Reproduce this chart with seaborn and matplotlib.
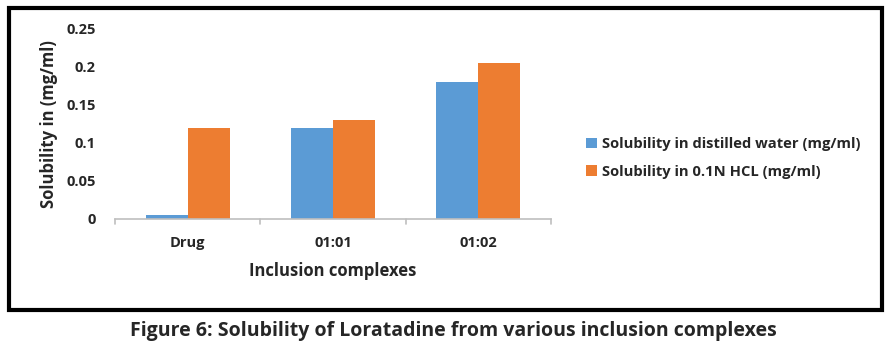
import pandas as pd
import numpy as np
import matplotlib.pyplot as plt
import seaborn as sns
from matplotlib.patches import Rectangle

complexes = ["Drug", "01:01", "01:02"]
water = [0.005, 0.12, 0.18]
hcl = [0.12, 0.13, 0.205]
series_names = ["Solubility in distilled water (mg/ml)", "Solubility in 0.1N HCL (mg/ml)"]
yticks = [0, 0.05, 0.1, 0.15, 0.2, 0.25]
ytick_labels = ["0", "0.05", "0.1", "0.15", "0.2", "0.25"]

df = pd.DataFrame({
    "complex": complexes * 2,
    "value": water + hcl,
    "series": [series_names[0]] * 3 + [series_names[1]] * 3,
})

sns.set_style("white")
plt.rcParams['font.family'] = ['Open Sans', 'DejaVu Sans']
plt.rcParams['font.weight'] = 'bold'

fig = plt.figure(figsize=(8.91, 3.52), dpi=100)
ax = fig.add_axes([115 / 891, 1 - 219 / 352, 436 / 891, 190 / 352])

sns.barplot(data=df, x="complex", y="value", hue="series", ax=ax,
            palette=["#5B9BD5", "#ED7D31"], width=0.58, saturation=1, gap=0,
            linewidth=0)

ax.set_ylim(0, 0.25)
ax.set_xlim(-0.5, 2.5)
ax.set_yticks(yticks)
ax.set_yticklabels(ytick_labels, fontsize=10.5, fontweight="bold")
ax.tick_params(axis="y", length=0, pad=14)
ax.tick_params(axis="x", length=0, pad=12, labelsize=10.5)
for lbl in ax.get_xticklabels():
    lbl.set_fontweight("bold")

# category separator ticks on the x axis
for xpos in [-0.5, 0.5, 1.5, 2.5]:
    ax.plot([xpos, xpos], [0, -0.006], color="#BFBFBF", lw=1.2, clip_on=False)

for side in ["left", "right", "top"]:
    ax.spines[side].set_visible(False)
ax.spines["bottom"].set_color("#BFBFBF")
ax.spines["bottom"].set_linewidth(1.2)

ax.set_xlabel("Inclusion complexes", fontsize=12, fontweight="bold", labelpad=9)
ax.set_ylabel("Solubility in (mg/ml)", fontsize=12, fontweight="bold", labelpad=6)

handles, labels = ax.get_legend_handles_labels()
ax.legend(handles, labels, loc="center left", bbox_to_anchor=(573 / 891, 1 - 158 / 352),
          bbox_transform=fig.transFigure, frameon=False,
          handlelength=0.7, handleheight=0.7, handletextpad=0.4, labelspacing=0.9,
          prop={"weight": "bold", "size": 10.6})

fig.add_artist(Rectangle((9 / 891, 1 - 310 / 352), 873 / 891, 302 / 352,
                         transform=fig.transFigure, fill=False, edgecolor="black", lw=3))

fig.text(453 / 891, 1 - 331 / 352, "Figure 6: Solubility of Loratadine from various inclusion complexes",
         ha="center", va="center", fontsize=14, fontweight="bold")

plt.savefig("out.png", dpi=100)
